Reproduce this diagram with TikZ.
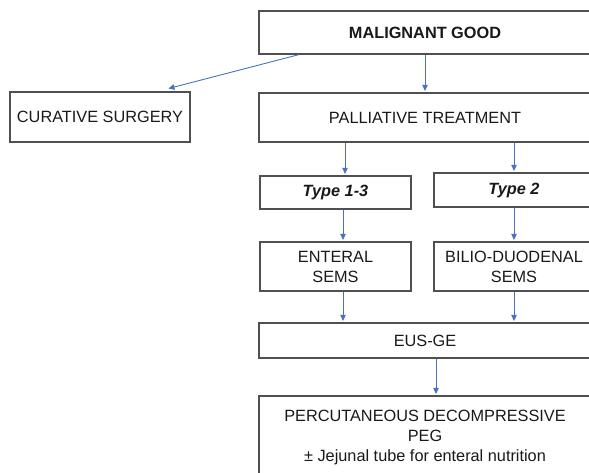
\documentclass[tikz,border=0pt]{standalone}
\usepackage{fontspec}
\setmainfont{Liberation Sans}
\usetikzlibrary{arrows.meta}
\definecolor{boxgray}{HTML}{505050}
\definecolor{arrblue}{HTML}{4A72C0}
\begin{document}
\begin{tikzpicture}[x=1pt,y=-1pt,
  box/.style={draw=boxgray, line width=1.2pt, rectangle, inner sep=0pt, align=center,
    font=\fontsize{16.3}{20}\selectfont, text=black!90},
  arr/.style={draw=arrblue, line width=0.9pt, -{Triangle[length=6pt,width=5.5pt]}, shorten >=1.5pt}]
\useasboundingbox (0,0) rectangle (589,472);
\clip (0,0) rectangle (589,472);
\node[box, minimum width=332pt, minimum height=43pt] (mal) at (425,32.5) {\textbf{MALIGNANT GOOD}};
\node[box, minimum width=332pt, minimum height=49pt] (pal) at (425,117.5) {PALLIATIVE TREATMENT};
\node[box, minimum width=180pt, minimum height=50pt] (cur) at (100,117) {CURATIVE SURGERY};
\node[box, minimum width=151pt, minimum height=33pt] (t13) at (335.5,192.5) {\textbf{\textit{Type 1-3}}};
\node[box, minimum width=160pt, minimum height=34pt] (t2) at (514,190) {\textbf{\textit{Type 2}}};
\node[box, minimum width=151pt, minimum height=49pt] (ent) at (335.5,266.5) {ENTERAL\\SEMS};
\node[box, minimum width=160pt, minimum height=49pt] (bil) at (514,266.5) {BILIO-DUODENAL\\SEMS};
\node[box, minimum width=332pt, minimum height=35pt] (eus) at (425,340.5) {EUS-GE};
\node[box, minimum width=332pt, minimum height=82pt] (peg) at (425,437) {PERCUTANEOUS DECOMPRESSIVE\\PEG\\± Jejunal tube for enteral nutrition};
\draw[arr] (mal) -- (pal);
\draw[arr] ([xshift=-126pt]mal.south) -- ([xshift=67pt,yshift=2.5pt]cur.north);
\draw[arr] ([xshift=-80pt]pal.south) -- ([xshift=9.5pt]t13.north);
\draw[arr] (t2.north |- pal.south) -- (t2.north);
\draw[arr] ([xshift=7.5pt]t13.south) -- ([xshift=7.5pt]ent.north);
\draw[arr] (t2) -- (bil);
\draw[arr] ([xshift=7.5pt]ent.south) -- ([xshift=-82pt]eus.north);
\draw[arr] (bil.south) -- (bil.south |- eus.north);
\draw[arr] ([xshift=11pt]eus.south) -- ([xshift=11pt]peg.north);
\end{tikzpicture}
\end{document}
